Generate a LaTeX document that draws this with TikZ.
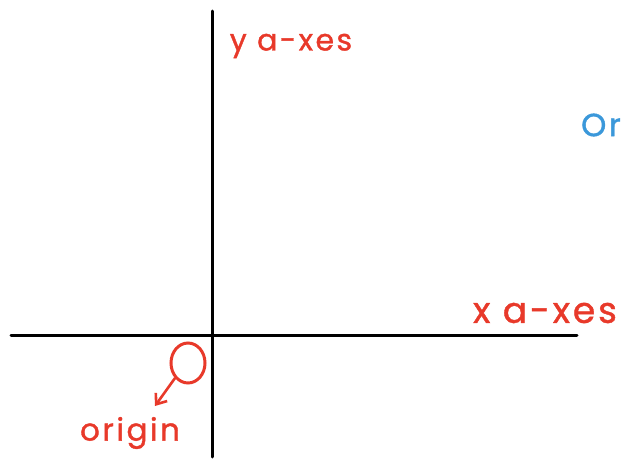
\documentclass[tikz,border=0pt]{standalone}
\usepackage{fontspec}
\usepackage{xcolor}
\usepackage{tikz}
\usetikzlibrary{positioning, calc, arrows.meta, shapes.geometric}
\newfontfamily\handfont[FakeBold=1.2, LetterSpace=8]{Poppins}
\definecolor{penred}{HTML}{E8392A}
\definecolor{penblue}{HTML}{3B98DA}

\begin{document}
\begin{tikzpicture}[
    x=1pt, y=-1pt,
    axis/.style={line width=3pt, color=black, line cap=round},
    lbl/.style={font=\handfont\fontsize{30}{34}\selectfont, color=penred, inner sep=0pt},
    ringmark/.style={draw=penred, line width=3pt, ellipse, minimum width=34pt, minimum height=40pt, inner sep=0pt},
    arr/.style={-{Straight Barb[length=9pt, width=14pt]}, line width=2.6pt, color=penred, line cap=round},
]

% ===== Canvas =====
\useasboundingbox (0,0) rectangle (622,466);

% ===== Axes =====
\coordinate (ytop) at (212,11);
\coordinate (ybot) at (212,457);
\coordinate (xleft) at (11,335);
\coordinate (xright) at (577,335);
\draw[axis] (ytop) -- (ybot);
\draw[axis] (xleft) -- (xright);

% ===== Axis labels =====
\node[lbl] (ylbl) at (291,46) {y a-xes};
\node[lbl, font=\handfont\fontsize{36}{40}\selectfont] (xlbl) at (545,313) {x a-xes};
\node[lbl, color=penblue, font=\handfont\fontsize{32}{36}\selectfont] (orlbl) at (601,125) {Or};

% ===== Origin mark =====
\node[ringmark] (omark) at (188,363) {};
\node[lbl, font=\handfont\fontsize{31}{35}\selectfont] (olbl) at (130,433) {origin};
\coordinate (otip) at (155,406);
\draw[arr] (omark.south west) -- (otip);

\end{tikzpicture}
\end{document}
